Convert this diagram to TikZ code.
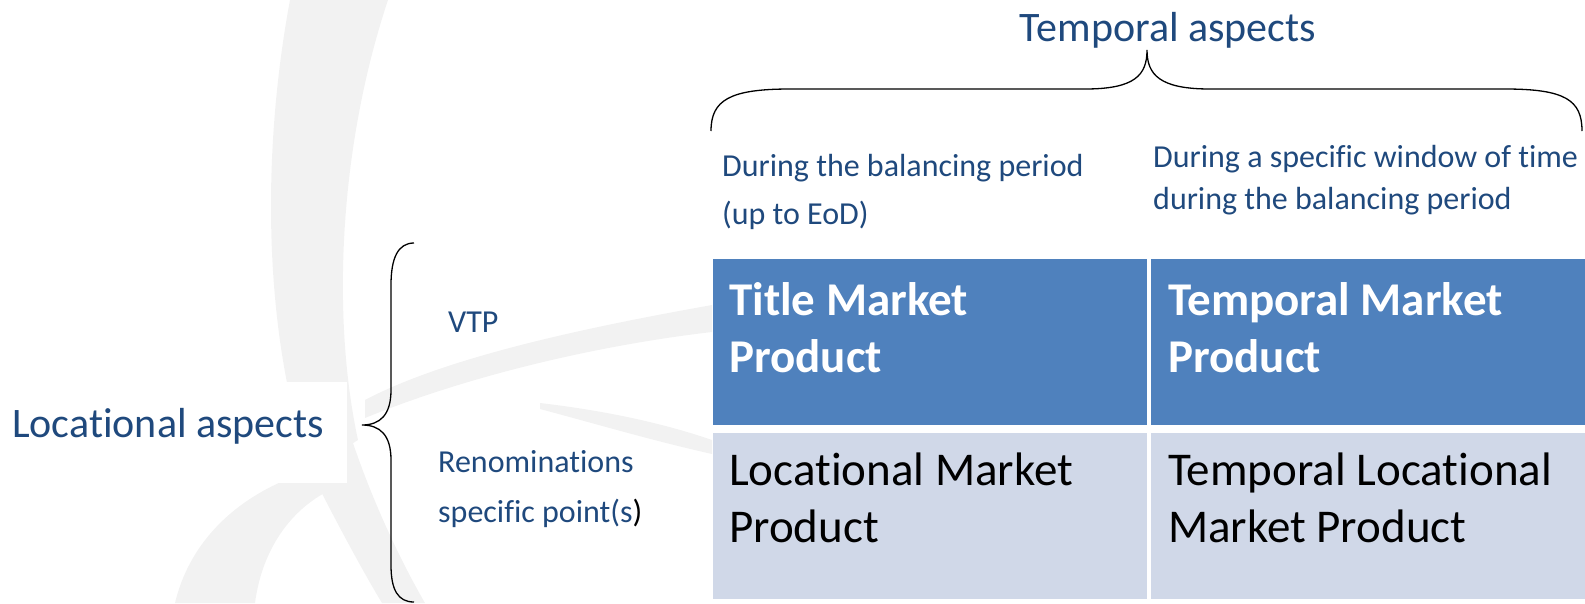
\documentclass[tikz,border=0pt]{standalone}
\usepackage{fontspec}
\setmainfont{Carlito}[Ligatures=NoCommon]
\definecolor{txtblue}{RGB}{31,73,125}
\definecolor{hdrblue}{RGB}{79,129,189}
\definecolor{rowblue}{RGB}{208,216,232}
\definecolor{wm}{RGB}{242,242,242}
\tikzset{
  celltext/.style={inner sep=0pt, anchor=base west, align=left, font=\fontsize{47}{56.5}\selectfont},
  small/.style={inner sep=0pt, anchor=base west, align=left, text=txtblue},
  bracestyle/.style={line width=1.3pt, black},
}
\begin{document}
\begin{tikzpicture}[x=1pt,y=-1pt]
\useasboundingbox (0,0) rectangle (1585,603);
% watermark
\fill[wm] (290,0) .. controls (262,150) and (262,330) .. (310,470) -- (358,440) .. controls (332,320) and (338,150) .. (388,0) -- cycle;
\fill[wm] (305,460) .. controls (340,530) and (368,580) .. (382,603) -- (425,603) .. controls (400,560) and (372,500) .. (352,440) -- cycle;
\fill[wm] (175,603) .. controls (190,540) and (240,490) .. (320,468) -- (330,490) .. controls (290,510) and (262,550) .. (255,603) -- cycle;
\fill[wm] (365,400) .. controls (450,355) and (600,325) .. (712,305) -- (712,332) .. controls (600,345) and (470,375) .. (365,418) -- cycle;
\fill[wm] (540,403) .. controls (600,410) and (660,422) .. (712,440) -- (712,454) .. controls (650,440) and (600,425) .. (540,409) -- cycle;
% table cells
\fill[hdrblue] (713,259) rectangle (1147,425);
\fill[hdrblue] (1151,259) rectangle (1585,425);
\fill[rowblue] (713,433) rectangle (1147,599);
\fill[rowblue] (1151,433) rectangle (1585,599);
\node[celltext, text=white, font=\bfseries\fontsize{47}{56.5}\selectfont] (tmp) at (729,372) {Title Market\\Product};
\node[celltext, text=white, font=\bfseries\fontsize{47}{56.5}\selectfont] (tep) at (1168,372) {Temporal Market\\Product};
\node[celltext, text=black] (lmp) at (729,542) {Locational Market\\Product};
\node[celltext, text=black] (tlmp) at (1168,542) {Temporal Locational\\Market Product};
% top texts
\node[small, font=\fontsize{32}{48}\selectfont] (dbp) at (722,224) {During the balancing period\\(up to EoD)};
\node[small, font=\fontsize{32}{42}\selectfont] (dsw) at (1153,209) {During a specific window of time\\during the balancing period};
\node[inner sep=0pt, anchor=base, text=txtblue, font=\fontsize{42}{50}\selectfont] (ta) at (1168,41) {Temporal aspects};
% top brace
\coordinate (tbl) at (711,131);
\coordinate (tbr) at (1582,131);
\coordinate (tbt) at (1147,50);
\draw[bracestyle] (tbl) .. controls (711,100) and (730,89) .. (790,89) -- (1085,89) .. controls (1135,89) and (1147,75) .. (tbt)
  .. controls (1147,75) and (1160,89) .. (1210,89) -- (1505,89) .. controls (1565,89) and (1582,100) .. (tbr);
% left
\fill[white] (0,382) rectangle (347,483);
\node[inner sep=0pt, anchor=base west, text=txtblue, font=\fontsize{42}{50}\selectfont] (la) at (12,437) {Locational aspects};
\coordinate (lbt) at (414,243);
\coordinate (lbb) at (414,602);
\coordinate (lbm) at (362,425);
\draw[bracestyle] (lbt) .. controls (398,243) and (391,258) .. (391,285) -- (391,390) .. controls (391,415) and (380,425) .. (lbm)
  .. controls (380,425) and (391,435) .. (391,460) -- (391,565) .. controls (391,590) and (398,602) .. (lbb);
\node[small, font=\fontsize{32}{50}\selectfont] (vtp) at (448,332) {VTP};
\node[small, font=\fontsize{32}{50}\selectfont] (ren) at (438,522) {Renominations\\specific point(s\textcolor{black}{)}};
\end{tikzpicture}
\end{document}
